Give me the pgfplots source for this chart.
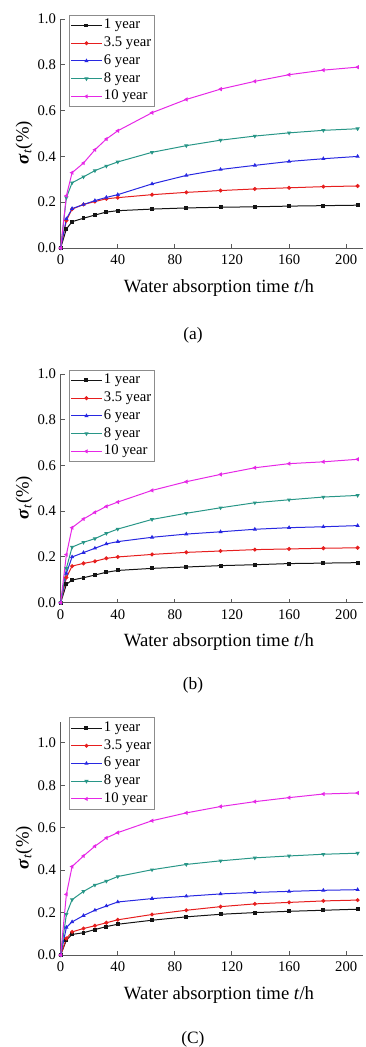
\documentclass[border=0pt]{standalone}
\usepackage{fontspec}
\setmainfont{Liberation Serif}
\usepackage{pgfplots}
\usepackage{pgfplotstable}
\pgfplotsset{compat=1.18}

\definecolor{cblack}{RGB}{20,20,20}
\definecolor{cred}{RGB}{230,30,30}
\definecolor{cblue}{RGB}{40,40,225}
\definecolor{cteal}{RGB}{40,150,135}
\definecolor{cmag}{RGB}{230,40,230}

\pgfplotstableread{
t y1 y35 y6 y8 y10
0 0 0 0 0 0
4 0.083 0.120 0.127 0.220 0.228
8 0.115 0.170 0.172 0.285 0.329
16 0.130 0.190 0.190 0.311 0.371
24 0.144 0.203 0.207 0.338 0.429
32 0.157 0.215 0.221 0.358 0.476
40 0.163 0.220 0.233 0.376 0.512
64 0.170 0.233 0.280 0.418 0.591
88 0.175 0.243 0.317 0.447 0.649
112 0.178 0.251 0.343 0.471 0.694
136 0.180 0.258 0.361 0.489 0.728
160 0.183 0.263 0.378 0.503 0.757
184 0.185 0.268 0.390 0.514 0.777
208 0.187 0.271 0.400 0.521 0.790
}\tabA

\pgfplotstableread{
t y1 y35 y6 y8 y10
0 0 0 0 0 0
4 0.080 0.110 0.128 0.150 0.210
8 0.099 0.160 0.200 0.243 0.328
16 0.109 0.172 0.219 0.264 0.366
24 0.121 0.181 0.238 0.280 0.395
32 0.133 0.194 0.257 0.303 0.421
40 0.141 0.200 0.267 0.322 0.440
64 0.150 0.211 0.286 0.364 0.491
88 0.156 0.220 0.300 0.391 0.529
112 0.162 0.226 0.310 0.415 0.561
136 0.166 0.232 0.321 0.437 0.590
160 0.171 0.235 0.328 0.450 0.608
184 0.173 0.238 0.332 0.462 0.616
208 0.175 0.240 0.337 0.469 0.627
}\tabB

\pgfplotstableread{
t y1 y35 y6 y8 y10
0 0 0 0 0 0
4 0.070 0.078 0.130 0.192 0.286
8 0.097 0.109 0.156 0.261 0.417
16 0.105 0.125 0.186 0.300 0.467
24 0.120 0.138 0.211 0.330 0.513
32 0.134 0.152 0.231 0.348 0.552
40 0.145 0.166 0.250 0.370 0.577
64 0.164 0.191 0.266 0.402 0.633
88 0.180 0.211 0.277 0.427 0.670
112 0.192 0.228 0.288 0.444 0.700
136 0.200 0.241 0.295 0.458 0.723
160 0.206 0.248 0.300 0.467 0.742
184 0.211 0.255 0.305 0.475 0.759
208 0.216 0.259 0.308 0.480 0.764
}\tabC

\pgfplotsset{
  panel/.style={
    scale only axis, width=227pt, clip=false,
    axis x line*=bottom, axis y line*=left,
    axis line style={draw=black!65, line width=0.75pt},
    every tick/.style={draw=black!65, line width=0.75pt},
    tick align=inside, major tick length=3pt,
    xmin=0, xmax=212, xtick={0,40,...,200},
    ymin=0, ytick={0,0.2,0.4,0.6,0.8,1.0},
    yticklabel style={/pgf/number format/.cd, fixed, fixed zerofill, precision=1},
    /pgf/number format/assume math mode=true,
    tick label style={font=\fontsize{11}{13}\selectfont},
    xticklabel style={anchor=base, yshift=-12.5pt},
    xlabel={Water absorption time \textit{t}/h},
    xlabel style={font=\fontsize{14}{16}\selectfont, at={(axis description cs:0.523,0)}, anchor=base, yshift=-33pt},
    ylabel={\textbf{\textit{σ}}\textsubscript{\textit{t}}(\%)},
    ylabel style={font=\fontsize{14}{16}\selectfont, at={(axis description cs:-0.121,0.46)}, anchor=center, rotate=0},
    legend style={at={(0.0274,1.018)}, anchor=north west, draw=black!45, line width=0.5pt, fill=white,
      font=\fontsize{11}{13.3}\selectfont, inner sep=1pt, row sep=0pt,
      nodes={inner sep=1.25pt, text height=8pt, text depth=2.8pt}},
    legend cell align=left,
    legend image code/.code={\draw[mark repeat=2,mark phase=2] plot coordinates {(0pt,0pt) (11.5pt,0pt) (23pt,0pt)};},
    every axis plot/.append style={line width=0.75pt, mark size=1.1pt, mark options={solid}},
  }
}

\newcommand{\series}[1]{%
  \addplot[color=cblack, mark=square*] table[x=t, y=y1] {#1};
  \addplot[color=cred, mark=*] table[x=t, y=y35] {#1};
  \addplot[color=cblue, mark=triangle*] table[x=t, y=y6] {#1};
  \addplot[color=cteal, mark=triangle*, mark options={rotate=180}] table[x=t, y=y8] {#1};
  \addplot[color=cmag, mark=triangle*, mark options={rotate=90}] table[x=t, y=y10] {#1};
  \legend{1 year, 3.5 year, 6 year, 8 year, 10 year}
}

\begin{document}
\begin{tikzpicture}
\useasboundingbox (0pt,0pt) rectangle (273.75pt,-785.25pt);

\begin{axis}[panel, height=171.7pt, ymax=1.0, at={(45.5pt,-186pt)}, anchor=south west]
\series{\tabA}
\node[font=\fontsize{13}{15}\selectfont] at (rel axis cs:0.437,0) [yshift=-65.5pt] {(a)};
\end{axis}

\begin{axis}[panel, height=171.5pt, ymax=1.0, at={(45.5pt,-452pt)}, anchor=south west]
\series{\tabB}
\node[font=\fontsize{13}{15}\selectfont] at (rel axis cs:0.437,0) [yshift=-62.1pt] {(b)};
\end{axis}

\begin{axis}[panel, height=175pt, ymax=1.1, at={(45.5pt,-716.25pt)}, anchor=south west]
\series{\tabC}
\node[font=\fontsize{13}{15}\selectfont] at (rel axis cs:0.437,0) [yshift=-63pt] {(C)};
\end{axis}
\end{tikzpicture}
\end{document}
